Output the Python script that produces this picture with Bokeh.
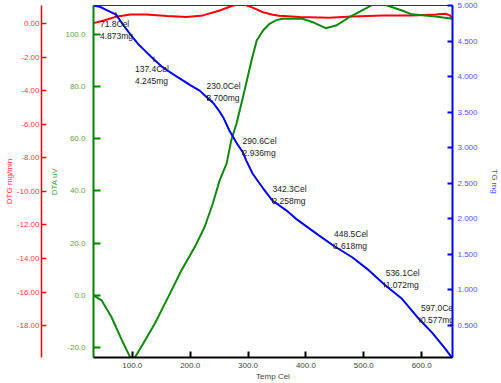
import math
from bokeh.plotting import figure
from bokeh.models import Range1d, LinearAxis, FixedTicker, NumeralTickFormatter
from bokeh.core.properties import value
from bokeh.embed import file_html
from bokeh.resources import INLINE

# ---------------- data ----------------
temp_tg = [33, 45, 55, 72, 85, 97, 110, 120, 137, 150, 160, 175, 188, 200, 217, 230, 240, 250,
           257, 268, 280, 291, 297, 308, 326, 342, 366, 383, 423, 448.5, 480, 509, 536, 566,
           597, 618, 641, 653]
tg_mg = [5.00, 4.98, 4.94, 4.873, 4.72, 4.59, 4.46, 4.38, 4.245, 4.15, 4.09, 4.01, 3.945, 3.88,
         3.80, 3.70, 3.63, 3.52, 3.43, 3.24, 3.07, 2.936, 2.82, 2.635, 2.43, 2.258, 2.12, 2.00,
         1.765, 1.618, 1.46, 1.275, 1.072, 0.876, 0.577, 0.40, 0.17, 0.04]

temp_dta = [33, 47, 64, 82, 96, 101, 105, 119, 139, 162, 185, 208, 225, 239, 251, 258, 263, 271,
            280, 294, 306, 315, 326, 337, 349, 360, 394, 412, 434, 452, 475, 497, 515, 538, 566,
            583, 624, 653]
dta_uv = [0.0, -1.9, -8.3, -17.2, -23.6, -25.0, -23.6, -18.5, -10.8, -0.7, 9.6, 18.5, 26.2, 35.1,
          44.1, 47.9, 50.5, 59.4, 65.8, 78.5, 90.0, 97.7, 101.5, 104.1, 105.5, 106.0, 106.0, 104.7,
          102.4, 103.4, 106.6, 109.2, 111.3, 111.3, 109.2, 107.7, 106.9, 106.0]

temp_dtg = [33, 51, 74, 97, 125, 160, 194, 222, 251, 274, 291, 308, 326, 343, 354, 389, 440, 480,
            532, 583, 624, 641, 649, 653]
dtg_mgmin = [0.02, 0.18, 0.42, 0.54, 0.54, 0.44, 0.38, 0.48, 0.77, 1.07, 1.15, 0.94, 0.67, 0.52,
             0.46, 0.38, 0.34, 0.42, 0.48, 0.48, 0.54, 0.58, 0.48, 0.28]

label_temps = [71.8, 137.4, 230.0, 290.6, 342.3, 448.5, 536.1, 597.0]
label_masses = [4.873, 4.245, 3.700, 2.936, 2.258, 1.618, 1.072, 0.577]

x_ticks = [100, 200, 300, 400, 500, 600]
dta_ticks = [-20, 0, 20, 40, 60, 80, 100]
dtg_ticks = [-18, -16, -14, -12, -10, -8, -6, -4, -2, 0]
tg_ticks = [0.5, 1.0, 1.5, 2.0, 2.5, 3.0, 3.5, 4.0, 4.5, 5.0]

# ---------------- layout / style ----------------
FONT = "Liberation Sans"
label_dx = [-16, -19, -1, 0, 0, 0, 1, 1]
label_dy = [21, 22, 0, 1, 0, 0, 0, 0]

X0, X1 = 33, 653.3
p = figure(width=501, height=383, output_backend="svg", toolbar_location=None,
           x_range=Range1d(X0, X1), y_range=Range1d(-23.83, 111.1),
           min_border_left=93, min_border_right=47, min_border_top=5, min_border_bottom=26)
p.extra_y_ranges = {"dtg": Range1d(-19.9, 1.07), "tg": Range1d(0.05, 5.001)}
p.xgrid.visible = False
p.ygrid.visible = False
p.outline_line_color = "#333333"
p.outline_line_width = 1
p.background_fill_color = "white"
p.border_fill_color = "white"

# x axis
xa = p.xaxis[0]
xa.ticker = FixedTicker(ticks=x_ticks)
xa.formatter = NumeralTickFormatter(format="0.0")
xa.axis_line_color = "black"
xa.axis_line_width = 2
xa.major_tick_line_color = "black"
xa.major_tick_line_width = 2
xa.major_tick_in = 6
xa.major_tick_out = 0
xa.minor_tick_out = 0
xa.minor_tick_line_color = None
xa.major_label_text_font = FONT
xa.major_label_text_font_size = "8px"
xa.major_label_text_color = "#444444"
xa.major_label_standoff = 5
xa.axis_label = "Temp Cel"
xa.axis_label_text_font = FONT
xa.axis_label_text_font_size = "8px"
xa.axis_label_text_font_style = "normal"
xa.axis_label_text_color = "#444444"
xa.axis_label_standoff = 1

# green DTA axis (inner left)
ga = p.yaxis[0]
ga.ticker = FixedTicker(ticks=dta_ticks)
ga.formatter = NumeralTickFormatter(format="0.0")
ga.axis_line_color = "#008000"
ga.axis_line_width = 2
ga.major_tick_line_color = "#008000"
ga.major_tick_line_width = 2
ga.major_tick_in = 7
ga.major_tick_out = 0
ga.minor_tick_out = 0
ga.minor_tick_line_color = None
ga.major_label_text_font = FONT
ga.major_label_text_font_size = "8px"
ga.major_label_text_color = "#6a9e4a"
ga.major_label_standoff = 8
ga.axis_label = "DTA uV"
ga.axis_label_text_font = FONT
ga.axis_label_text_font_size = "8px"
ga.axis_label_text_font_style = "normal"
ga.axis_label_text_color = "#3f9a3f"
ga.axis_label_standoff = 3

# narrow spacer axis between green and red: one white-on-white label gives it width
spacer = LinearAxis(ticker=FixedTicker(ticks=[108]), axis_line_color=None,
                    major_tick_line_color=None, minor_tick_line_color=None,
                    major_tick_in=0, major_tick_out=0, minor_tick_out=0,
                    major_label_standoff=1, major_label_overrides={108: "."},
                    major_label_text_color="white", major_label_text_font=FONT,
                    major_label_text_font_size="8px")
p.add_layout(spacer, "left")

# red DTG axis (outer left)
ra = LinearAxis(y_range_name="dtg", ticker=FixedTicker(ticks=dtg_ticks),
                formatter=NumeralTickFormatter(format="0.00"))
ra.axis_line_color = "#ff0000"
ra.axis_line_width = 1.5
ra.major_tick_line_color = "#ff0000"
ra.major_tick_line_width = 1.5
ra.major_tick_in = 5
ra.major_tick_out = 0
ra.minor_tick_out = 0
ra.minor_tick_line_color = None
ra.major_label_text_font = FONT
ra.major_label_text_font_size = "8px"
ra.major_label_text_color = "#ff4040"
ra.major_label_standoff = 2
ra.axis_label = "DTG mg/min"
ra.axis_label_text_font = FONT
ra.axis_label_text_font_size = "8px"
ra.axis_label_text_font_style = "normal"
ra.axis_label_text_color = "#ff3030"
ra.axis_label_standoff = 0
p.add_layout(ra, "left")

# blue TG axis (right)
ba = LinearAxis(y_range_name="tg", ticker=FixedTicker(ticks=tg_ticks),
                formatter=NumeralTickFormatter(format="0.000"))
ba.axis_line_color = "#0000ff"
ba.axis_line_width = 2
ba.major_tick_line_color = "#0000ff"
ba.major_tick_line_width = 2
ba.major_tick_in = 5
ba.major_tick_out = 0
ba.minor_tick_out = 0
ba.minor_tick_line_color = None
ba.major_label_text_font = FONT
ba.major_label_text_font_size = "8px"
ba.major_label_text_color = "#5050ff"
ba.major_label_standoff = 5
ba.axis_label = "TG mg"
ba.axis_label_text_font = FONT
ba.axis_label_text_font_size = "8px"
ba.axis_label_text_font_style = "normal"
ba.axis_label_text_color = "#4a4aff"
ba.axis_label_standoff = 9
p.add_layout(ba, "right")

# curves
p.line(temp_dtg, dtg_mgmin, y_range_name="dtg", line_color="#ff0000", line_width=2)
p.line(temp_dta, dta_uv, line_color="#0f870f", line_width=2)
p.line(temp_tg, tg_mg, y_range_name="tg", line_color="#0000ff", line_width=2)

# annotations
line1 = [f"{t:.1f}Cel" for t in label_temps]
line2 = [f"{m:.3f}mg" for m in label_masses]
p.scatter(label_temps, label_masses, y_range_name="tg", marker="dash", angle=math.pi / 2,
          size=5, line_color="#222222", line_width=1)
p.text(x=label_temps, y=label_masses, text=line1, y_range_name="tg",
       x_offset=label_dx, y_offset=[d - 12 for d in label_dy],
       text_font=value(FONT), text_font_size="8.5px", text_color="#222222",
       text_align="left", text_baseline="middle")
p.text(x=label_temps, y=label_masses, text=line2, y_range_name="tg",
       x_offset=label_dx, y_offset=label_dy,
       text_font=value(FONT), text_font_size="8.5px", text_color="#222222",
       text_align="left", text_baseline="middle")

open("out.html", "w").write(file_html(p, INLINE))
